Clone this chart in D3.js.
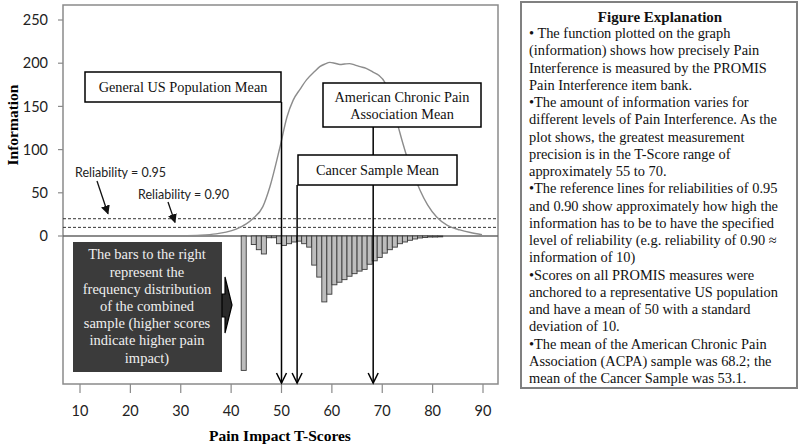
<!DOCTYPE html>
<html>
<head>
<meta charset="utf-8">
<script src="https://cdn.jsdelivr.net/npm/d3@7"></script>
<style>
  body { margin: 0; background: #fff; }
  svg { display: block; }
</style>
</head>
<body>
<svg id="chart" width="800" height="446"></svg>
<script>
// information function of the item bank (T-score, information)
const curveT = [30, 34, 37, 39, 41, 43, 44.3, 46.3, 47.7, 49.7, 51.1, 52.3, 53.7, 55, 56.5, 57.6, 58.6, 59.6, 60.6, 61.6, 62.5, 63.5, 64.5, 65.6, 66.8, 68.1, 69.3, 70.5, 71.8, 73.1, 74.1, 75.1, 76.3, 77.5, 79, 80.8, 83, 85.4, 87.5, 89.8];
const curveInfo = [0.3, 1, 2.5, 4.5, 8, 14, 20, 34, 57, 103, 138, 157, 170, 181, 190, 196, 199, 201, 200, 198.5, 199, 199.5, 198, 196, 194, 190, 186, 178, 155, 128, 107, 88, 70, 53, 36, 22, 12, 7, 4, 1.5];

// frequency distribution of the combined sample (bin start T-score, % of sample)
const binT = [42, 43, 44, 45, 46, 47, 48, 49, 50, 51, 52, 53, 54, 55, 56, 57, 58, 59, 60, 61, 62, 63, 64, 65, 66, 67, 68, 69, 70, 71, 72, 73, 74, 75, 76, 77, 78, 79, 80, 81];
const binPct = [15.7, 0, 1.0, 1.6, 2.1, 0.2, 0.2, 0.9, 1.1, 0.9, 0.7, 0.6, 0.9, 1.3, 3.4, 4.8, 7.7, 6.8, 5.7, 5.4, 5.1, 4.7, 4.4, 4.1, 3.9, 3.3, 2.9, 2.5, 2.0, 1.6, 1.3, 0.9, 0.7, 0.5, 0.35, 0.23, 0.18, 0.12, 0.12, 0.1];

const xTicks = [10, 20, 30, 40, 50, 60, 70, 80, 90];
const yTicks = [0, 50, 100, 150, 200, 250];

const reliabilityLabels = ["Reliability = 0.95", "Reliability = 0.90"];
const reliabilityInfo = [20, 10];

const meanLabels = [["General US Population Mean"], ["Cancer Sample Mean"], ["American Chronic Pain", "Association Mean"]];
const meanValues = [50, 53.1, 68.2];

const barNote = ["The bars to the right", "represent the", "frequency distribution", "of the combined", "sample (higher scores", "indicate higher pain", "impact)"];

const explanationTitle = "Figure Explanation";
const explanationLines = [
  "\u2022 The function plotted on the graph",
  "(information) shows how precisely Pain",
  "Interference is measured by the PROMIS",
  "Pain Interference item bank.",
  "\u2022The amount of information varies for",
  "different levels of Pain Interference. As the",
  "plot shows, the greatest measurement",
  "precision is in the T-Score range of",
  "approximately 55 to 70.",
  "\u2022The reference lines for reliabilities of 0.95",
  "and 0.90 show approximately how high the",
  "information has to be to have the specified",
  "level of reliability (e.g. reliability of 0.90 \u2248",
  "information of 10)",
  "\u2022Scores on all PROMIS measures were",
  "anchored to a representative US population",
  "and have a mean of 50 with a standard",
  "deviation of 10.",
  "\u2022The mean of the American Chronic Pain",
  "Association (ACPA) sample was 68.2; the",
  "mean of the Cancer Sample was 53.1."
];

const serif = "'Liberation Serif', 'Times New Roman', serif";
const sans = "Lato, 'Liberation Sans', sans-serif";

const svg = d3.select("#chart");

// plot frame
const frame = { left: 63, right: 498, top: 5, bottom: 384 };

const x = d3.scaleLinear().domain([10, 90]).range([80, 483]);
const y = d3.scaleLinear().domain([0, 250]).range([236, 20]);
// histogram hangs below the zero line
const freq = d3.scaleLinear().domain([0, 10]).range([0, 85.6]);

svg.append("rect")
  .attr("x", frame.left).attr("y", frame.top)
  .attr("width", frame.right - frame.left).attr("height", frame.bottom - frame.top)
  .attr("fill", "#fff").attr("stroke", "#8a8a8a").attr("stroke-width", 1.5);

// y axis ticks + labels
svg.selectAll(".ytick").data(yTicks).enter().append("line")
  .attr("x1", frame.left - 5).attr("x2", frame.left)
  .attr("y1", d => y(d)).attr("y2", d => y(d))
  .attr("stroke", "#8a8a8a").attr("stroke-width", 1.2);
svg.selectAll(".ylab").data(yTicks).enter().append("text")
  .attr("x", 48).attr("y", d => y(d)).attr("dy", "0.36em")
  .attr("text-anchor", "end")
  .attr("font-family", sans).attr("font-size", 14.5).attr("fill", "#222")
  .text(d => d);

// x axis ticks + labels
svg.selectAll(".xtick").data(xTicks).enter().append("line")
  .attr("x1", d => x(d)).attr("x2", d => x(d))
  .attr("y1", frame.bottom).attr("y2", frame.bottom + 9)
  .attr("stroke", "#8a8a8a").attr("stroke-width", 1.2);
svg.selectAll(".xlab").data(xTicks).enter().append("text")
  .attr("x", d => x(d)).attr("y", 411).attr("dy", "0.36em")
  .attr("text-anchor", "middle")
  .attr("font-family", sans).attr("font-size", 14.5).attr("fill", "#222")
  .text(d => d);

// axis titles
svg.append("text")
  .attr("transform", "translate(13,125) rotate(-90)")
  .attr("text-anchor", "middle").attr("dy", "0.35em")
  .attr("font-family", serif).attr("font-weight", "bold").attr("font-size", 15.5)
  .text("Information");
svg.append("text")
  .attr("x", 280).attr("y", 436).attr("dy", "0.35em")
  .attr("text-anchor", "middle")
  .attr("font-family", serif).attr("font-weight", "bold").attr("font-size", 15.5)
  .text("Pain Impact T-Scores");

// zero line
svg.append("line")
  .attr("x1", frame.left).attr("x2", frame.right)
  .attr("y1", y(0)).attr("y2", y(0))
  .attr("stroke", "#666").attr("stroke-width", 1.3);

// reliability reference lines
svg.selectAll(".rel").data(reliabilityInfo).enter().append("line")
  .attr("x1", frame.left).attr("x2", frame.right)
  .attr("y1", d => y(d)).attr("y2", d => y(d))
  .attr("stroke", "#333").attr("stroke-width", 1).attr("stroke-dasharray", "3,2");

// histogram bars
svg.selectAll(".bar").data(binT).enter().append("rect")
  .attr("x", d => x(d)).attr("width", d => x(d + 1) - x(d))
  .attr("y", y(0)).attr("height", (d, i) => freq(binPct[i]))
  .attr("fill", "#bdbdbd").attr("stroke", "#3a3a3a").attr("stroke-width", 0.9);

// information curve
const line = d3.line()
  .x((d, i) => x(curveT[i]))
  .y((d, i) => y(curveInfo[i]))
  .curve(d3.curveMonotoneX);
svg.append("path")
  .datum(curveT)
  .attr("d", line)
  .attr("fill", "none").attr("stroke", "#8c8c8c").attr("stroke-width", 1.4);

// mean annotation boxes
const boxes = [
  { x0: 85, x1: 281, y0: 72, y1: 102 },
  { x0: 298, x1: 457, y0: 155, y1: 185 },
  { x0: 323, x1: 481, y0: 83, y1: 127 }
];

meanValues.forEach(function(v, i) {
  const px = x(v);
  svg.append("line")
    .attr("x1", px).attr("x2", px)
    .attr("y1", boxes[i].y1).attr("y2", frame.bottom - 1)
    .attr("stroke", "#000").attr("stroke-width", 1.5);
  svg.append("polyline")
    .attr("points", [[px - 5, frame.bottom - 11], [px, frame.bottom - 1], [px + 5, frame.bottom - 11]].join(" "))
    .attr("fill", "none").attr("stroke", "#000").attr("stroke-width", 1.5);
});

boxes.forEach(function(b, i) {
  svg.append("rect")
    .attr("x", b.x0).attr("y", b.y0)
    .attr("width", b.x1 - b.x0).attr("height", b.y1 - b.y0)
    .attr("fill", "#fff").attr("stroke", "#000").attr("stroke-width", 1.5);
  const lines = meanLabels[i];
  const cy = (b.y0 + b.y1) / 2;
  lines.forEach(function(t, j) {
    svg.append("text")
      .attr("x", (b.x0 + b.x1) / 2)
      .attr("y", cy + (j - (lines.length - 1) / 2) * 17)
      .attr("dy", "0.35em").attr("text-anchor", "middle")
      .attr("font-family", serif).attr("font-size", 14.3).attr("fill", "#111")
      .text(t);
  });
});

// reliability labels with arrows
svg.append("defs").append("marker")
  .attr("id", "head").attr("viewBox", "0 0 10 10")
  .attr("refX", 9).attr("refY", 5)
  .attr("markerWidth", 7).attr("markerHeight", 7)
  .attr("orient", "auto")
  .append("path").attr("d", "M0,0L10,5L0,10z").attr("fill", "#111");

const relLabelPos = [[75, 173], [138, 195]];
const relArrowFrom = [[97, 181], [168, 202]];
const relArrowToX = [108, 175];
reliabilityLabels.forEach(function(t, i) {
  svg.append("text")
    .attr("x", relLabelPos[i][0]).attr("y", relLabelPos[i][1]).attr("dy", "0.35em")
    .attr("font-family", sans).attr("font-size", 12.5).attr("fill", "#222")
    .text(t);
  svg.append("line")
    .attr("x1", relArrowFrom[i][0]).attr("y1", relArrowFrom[i][1])
    .attr("x2", relArrowToX[i]).attr("y2", y(reliabilityInfo[i]) - 5)
    .attr("stroke", "#111").attr("stroke-width", 1.3)
    .attr("marker-end", "url(#head)");
});

// dark note box for the histogram
svg.append("rect")
  .attr("x", 73).attr("y", 242).attr("width", 149).attr("height", 130)
  .attr("fill", "#3b3b3b");
barNote.forEach(function(t, j) {
  svg.append("text")
    .attr("x", 147).attr("y", 255 + j * 17.2).attr("dy", "0.3em")
    .attr("text-anchor", "middle")
    .attr("font-family", serif).attr("font-size", 14.5).attr("fill", "#efefef")
    .text(t);
});
svg.append("path")
  .attr("d", "M222,294 L225,294 L225,277 L232,305 L225,333 L225,317 L222,317 Z")
  .attr("fill", "#2a2a2a").attr("stroke", "#000").attr("stroke-width", 1.2);

// explanation panel
svg.append("rect")
  .attr("x", 521).attr("y", 2).attr("width", 276).attr("height", 386)
  .attr("fill", "#fff").attr("stroke", "#808080").attr("stroke-width", 2);
svg.append("text")
  .attr("x", 660).attr("y", 17).attr("dy", "0.3em")
  .attr("text-anchor", "middle")
  .attr("font-family", serif).attr("font-weight", "bold").attr("font-size", 15)
  .attr("fill", "#111")
  .text(explanationTitle);
svg.selectAll(".expl").data(explanationLines).enter().append("text")
  .attr("x", 529).attr("y", (d, i) => 34.5 + i * 17.25).attr("dy", "0.25em")
  .attr("font-family", serif).attr("font-size", 14.4).attr("fill", "#111")
  .text(d => d);
</script>
</body>
</html>
